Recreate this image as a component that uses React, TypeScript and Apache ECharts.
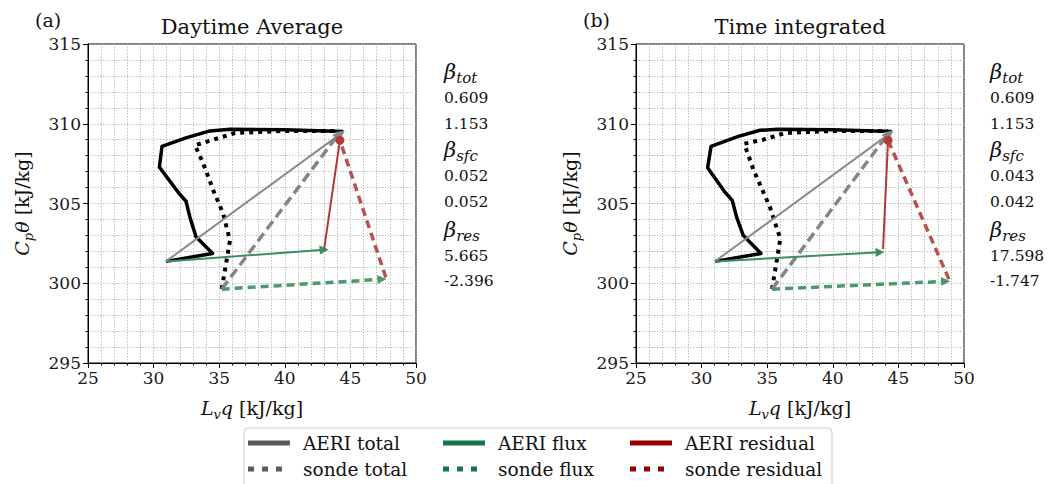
import React, { useEffect, useRef } from 'react';
import * as echarts from 'echarts';

const FONT = 'DejaVu Serif';

// axis ranges
const X_MIN = 25, X_MAX = 50, Y_MIN = 295, Y_MAX = 315;

// ---------- Panel (a): Daytime Average ----------
const aeriProfileA: number[][] = [
  [30.94, 301.37], [34.5, 301.87], [33.23, 302.92], [32.77, 304.14], [32.47, 305.14],
  [31.96, 305.61], [30.44, 307.28], [30.64, 308.58], [32.52, 309.13], [34.3, 309.55],
  [35.82, 309.65], [40.0, 309.62], [44.46, 309.52],
];
const sondeProfileA: number[][] = [
  [35.19, 299.63], [35.82, 302.67], [35.31, 304.35], [34.55, 305.82], [33.79, 307.5],
  [33.16, 308.65], [34.55, 309.0], [36.2, 309.42], [40.0, 309.55], [44.1, 309.55],
];
const aeriTotalA = [[30.94, 301.37], [44.3, 309.4]];
const aeriFluxA = [[30.94, 301.37], [43.0, 302.1]];
const aeriResA = [[43.0, 302.15], [44.2, 308.96]];
const sondeTotalA = [[35.19, 299.63], [44.1, 309.35]];
const sondeFluxA = [[35.19, 299.63], [47.4, 300.25]];
const sondeResA = [[47.7, 300.37], [44.2, 308.96]];
const betaValuesA = ['0.609', '1.153', '0.052', '0.052', '5.665', '-2.396'];

// ---------- Panel (b): Time integrated ----------
const aeriProfileB: number[][] = [
  [31.02, 301.37], [34.53, 301.87], [33.18, 302.99], [32.67, 304.14], [32.34, 305.19],
  [31.78, 305.71], [30.46, 307.24], [30.72, 308.58], [32.8, 309.21], [34.45, 309.59],
  [35.85, 309.65], [40.0, 309.62], [44.49, 309.52],
];
const sondeProfileB: number[][] = [
  [35.37, 299.63], [36.0, 302.78], [35.21, 304.77], [33.97, 307.08], [33.25, 308.75],
  [34.7, 309.0], [36.34, 309.42], [40.0, 309.55], [44.2, 309.55],
];
const aeriTotalB = [[31.02, 301.37], [44.35, 309.4]];
const aeriFluxB = [[31.02, 301.37], [43.6, 301.95]];
const aeriResB = [[43.83, 302.15], [44.21, 308.96]];
const sondeTotalB = [[35.37, 299.63], [44.2, 309.35]];
const sondeFluxB = [[35.37, 299.63], [48.6, 300.12]];
const sondeResB = [[48.85, 300.26], [44.21, 308.96]];
const betaValuesB = ['0.609', '1.153', '0.043', '0.042', '17.598', '-1.747'];

const titles = ['Daytime Average', 'Time integrated'];
const panelTags = ['(a)', '(b)'];
const betaNames = ['tot', 'sfc', 'res'];

const legendLabels = ['AERI total', 'sonde total', 'AERI flux', 'sonde flux', 'AERI residual', 'sonde residual'];

const GRID_LEFTS = [88, 636];
const GRID_TOP = 44;
const GRID_W = 328;
const GRID_H = 319;

const C_GRAY = '#8a8a8a';
const C_GRAY_D = '#858585';
const C_GREEN = '#3f8c5e';
const C_GREEN_D = '#4c9a6c';
const C_RED = '#b34b4b';
const C_RED_D = '#b85050';

function axisPair(i: number) {
  const common = {
    axisLine: { show: true, onZero: false, lineStyle: { color: '#000', width: 1 } },
    axisTick: { show: true, length: 5, lineStyle: { color: '#000' } },
    minorTick: { show: true, splitNumber: 5, length: 2.5, lineStyle: { color: '#000' } },
    splitLine: { show: true, lineStyle: { color: '#b0b0b0', type: [1.5, 1.5], width: 0.8 } },
    minorSplitLine: { show: true, lineStyle: { color: '#b0b0b0', type: [1.5, 1.5], width: 0.8 } },
    axisLabel: { fontFamily: FONT, fontSize: 17, color: '#1a1a1a' },
  };
  return {
    x: { type: 'value', gridIndex: i, min: X_MIN, max: X_MAX, interval: 5, ...common,
      axisLabel: { ...common.axisLabel, margin: 6 } },
    y: { type: 'value', gridIndex: i, min: Y_MIN, max: Y_MAX, interval: 5, ...common,
      axisLabel: { ...common.axisLabel, margin: 7 } },
  };
}

function arrow(i: number, coords: number[][], color: string, width: number, type: any, endSym = 'triangle', symSize: any = [8, 10]) {
  return {
    type: 'lines', coordinateSystem: 'cartesian2d', xAxisIndex: i, yAxisIndex: i,
    symbol: ['none', endSym], symbolSize: symSize, silent: true, z: 5,
    lineStyle: { color, width, type, opacity: 1, curveness: 0 },
    data: [{ coords }],
  };
}

function panelSeries(i: number, aeriP: number[][], sondeP: number[][], aT: number[][], aF: number[][], aR: number[][], sT: number[][], sF: number[][], sR: number[][]) {
  return [
    { type: 'line', xAxisIndex: i, yAxisIndex: i, data: aeriP, showSymbol: false, symbol: 'none', z: 3,
      lineStyle: { color: '#000', width: 3.5, join: 'round' } },
    { type: 'line', xAxisIndex: i, yAxisIndex: i, data: sondeP, showSymbol: false, symbol: 'none', z: 3,
      lineStyle: { color: '#000', width: 4, type: [4, 5] } },
    arrow(i, aT, C_GRAY, 2, 'solid', 'triangle', [7, 9]),
    arrow(i, sT, C_GRAY_D, 3.5, [10, 5], 'triangle', [8, 9]),
    arrow(i, aF, C_GREEN, 2, 'solid', 'triangle', [7, 9]),
    arrow(i, sF, C_GREEN_D, 3.5, [8, 5], 'triangle', [8, 9]),
    arrow(i, sR, C_RED_D, 3.5, [8, 5], 'none', 1),
    arrow(i, aR, '#b03a3a', 2, 'solid', 'circle', 9),
  ];
}

function textEl(x: number, y: number, text: string, size: number, extra: any = {}) {
  return {
    type: 'text', x, y, silent: true,
    style: { text, fontFamily: FONT, fontSize: size, fill: '#111', align: 'left', verticalAlign: 'middle', ...extra },
  };
}

function betaBlock(x: number, values: string[]) {
  const ys = [72, 98, 124, 150, 176, 202, 230, 256, 281];
  const els: any[] = [];
  for (let k = 0; k < 3; k++) {
    els.push({
      type: 'text', x, y: ys[k * 3], silent: true,
      style: {
        text: `{b|β}{s|${betaNames[k]}}`, fontFamily: FONT, align: 'left', verticalAlign: 'middle',
        rich: {
          b: { fontFamily: FONT, fontStyle: 'italic', fontSize: 21, fill: '#111', lineHeight: 26 },
          s: { fontFamily: FONT, fontStyle: 'italic', fontSize: 15, fill: '#111', lineHeight: 15, verticalAlign: 'bottom' },
        },
      },
    });
    els.push(textEl(x, ys[k * 3 + 1], values[k * 2], 15.5));
    els.push(textEl(x, ys[k * 3 + 2], values[k * 2 + 1], 15.5));
  }
  return els;
}

function axisNames(i: number) {
  const left = GRID_LEFTS[i];
  const rich = {
    i: { fontFamily: FONT, fontStyle: 'italic', fontSize: 19, fill: '#111', lineHeight: 26 },
    s: { fontFamily: FONT, fontStyle: 'italic', fontSize: 13, fill: '#111', lineHeight: 13, verticalAlign: 'bottom' },
    n: { fontFamily: FONT, fontSize: 19, fill: '#111', lineHeight: 26 },
  };
  return [
    {
      type: 'text', x: left + GRID_W / 2, y: 408, silent: true,
      style: { text: '{i|L}{s|v}{i|q}{n| [kJ/kg]}', align: 'center', verticalAlign: 'middle', rich },
    },
    {
      type: 'text', x: left - 66, y: GRID_TOP + GRID_H / 2, rotation: Math.PI / 2, silent: true,
      style: { text: '{i|C}{s|p}{i|θ}{n| [kJ/kg]}', align: 'center', verticalAlign: 'middle', rich },
    },
    textEl(left + GRID_W / 2, 27, titles[i], 21, { align: 'center' }),
    textEl(left - 53, 20, panelTags[i], 19),
  ];
}

function legendEls() {
  const els: any[] = [];
  els.push({
    type: 'rect', shape: { x: 244, y: 428, width: 588, height: 62, r: 4 }, silent: true,
    style: { fill: '#fff', stroke: '#cccccc', lineWidth: 1 },
  });
  const cols = [248, 443, 630];
  const rows = [443, 469];
  const colors = ['#5a5a5a', '#17744a', '#990000'];
  for (let c = 0; c < 3; c++) {
    for (let r = 0; r < 2; r++) {
      const y = rows[r];
      els.push({
        type: 'line', silent: true,
        shape: { x1: cols[c], y1: y, x2: cols[c] + 42, y2: y },
        style: { stroke: colors[c], lineWidth: 5, lineDash: r === 0 ? null : [6, 8], lineCap: 'butt' },
      });
      els.push(textEl(cols[c] + 55, y, legendLabels[c * 2 + r], 18.5));
    }
  }
  return els;
}

export default function App() {
  const ref = useRef<HTMLDivElement>(null);
  useEffect(() => {
    if (!ref.current) return;
    const chart = echarts.init(ref.current, null, { renderer: 'svg' });
    const a0 = axisPair(0), a1 = axisPair(1);
    chart.setOption({
      animation: false,
      backgroundColor: '#fff',
      grid: [
        { left: GRID_LEFTS[0], top: GRID_TOP, width: GRID_W, height: GRID_H, show: true, borderColor: '#000', borderWidth: 1, backgroundColor: 'transparent' },
        { left: GRID_LEFTS[1], top: GRID_TOP, width: GRID_W, height: GRID_H, show: true, borderColor: '#000', borderWidth: 1, backgroundColor: 'transparent' },
      ],
      xAxis: [a0.x, a1.x],
      yAxis: [a0.y, a1.y],
      series: [
        ...panelSeries(0, aeriProfileA, sondeProfileA, aeriTotalA, aeriFluxA, aeriResA, sondeTotalA, sondeFluxA, sondeResA),
        ...panelSeries(1, aeriProfileB, sondeProfileB, aeriTotalB, aeriFluxB, aeriResB, sondeTotalB, sondeFluxB, sondeResB),
      ],
      graphic: [
        ...betaBlock(444, betaValuesA),
        ...betaBlock(990, betaValuesB),
        ...axisNames(0),
        ...axisNames(1),
        ...legendEls(),
      ],
    });
    return () => chart.dispose();
  }, []);
  return <div ref={ref} style={{ position: 'fixed', left: 0, top: 0, width: 1049, height: 484 }} />;
}
